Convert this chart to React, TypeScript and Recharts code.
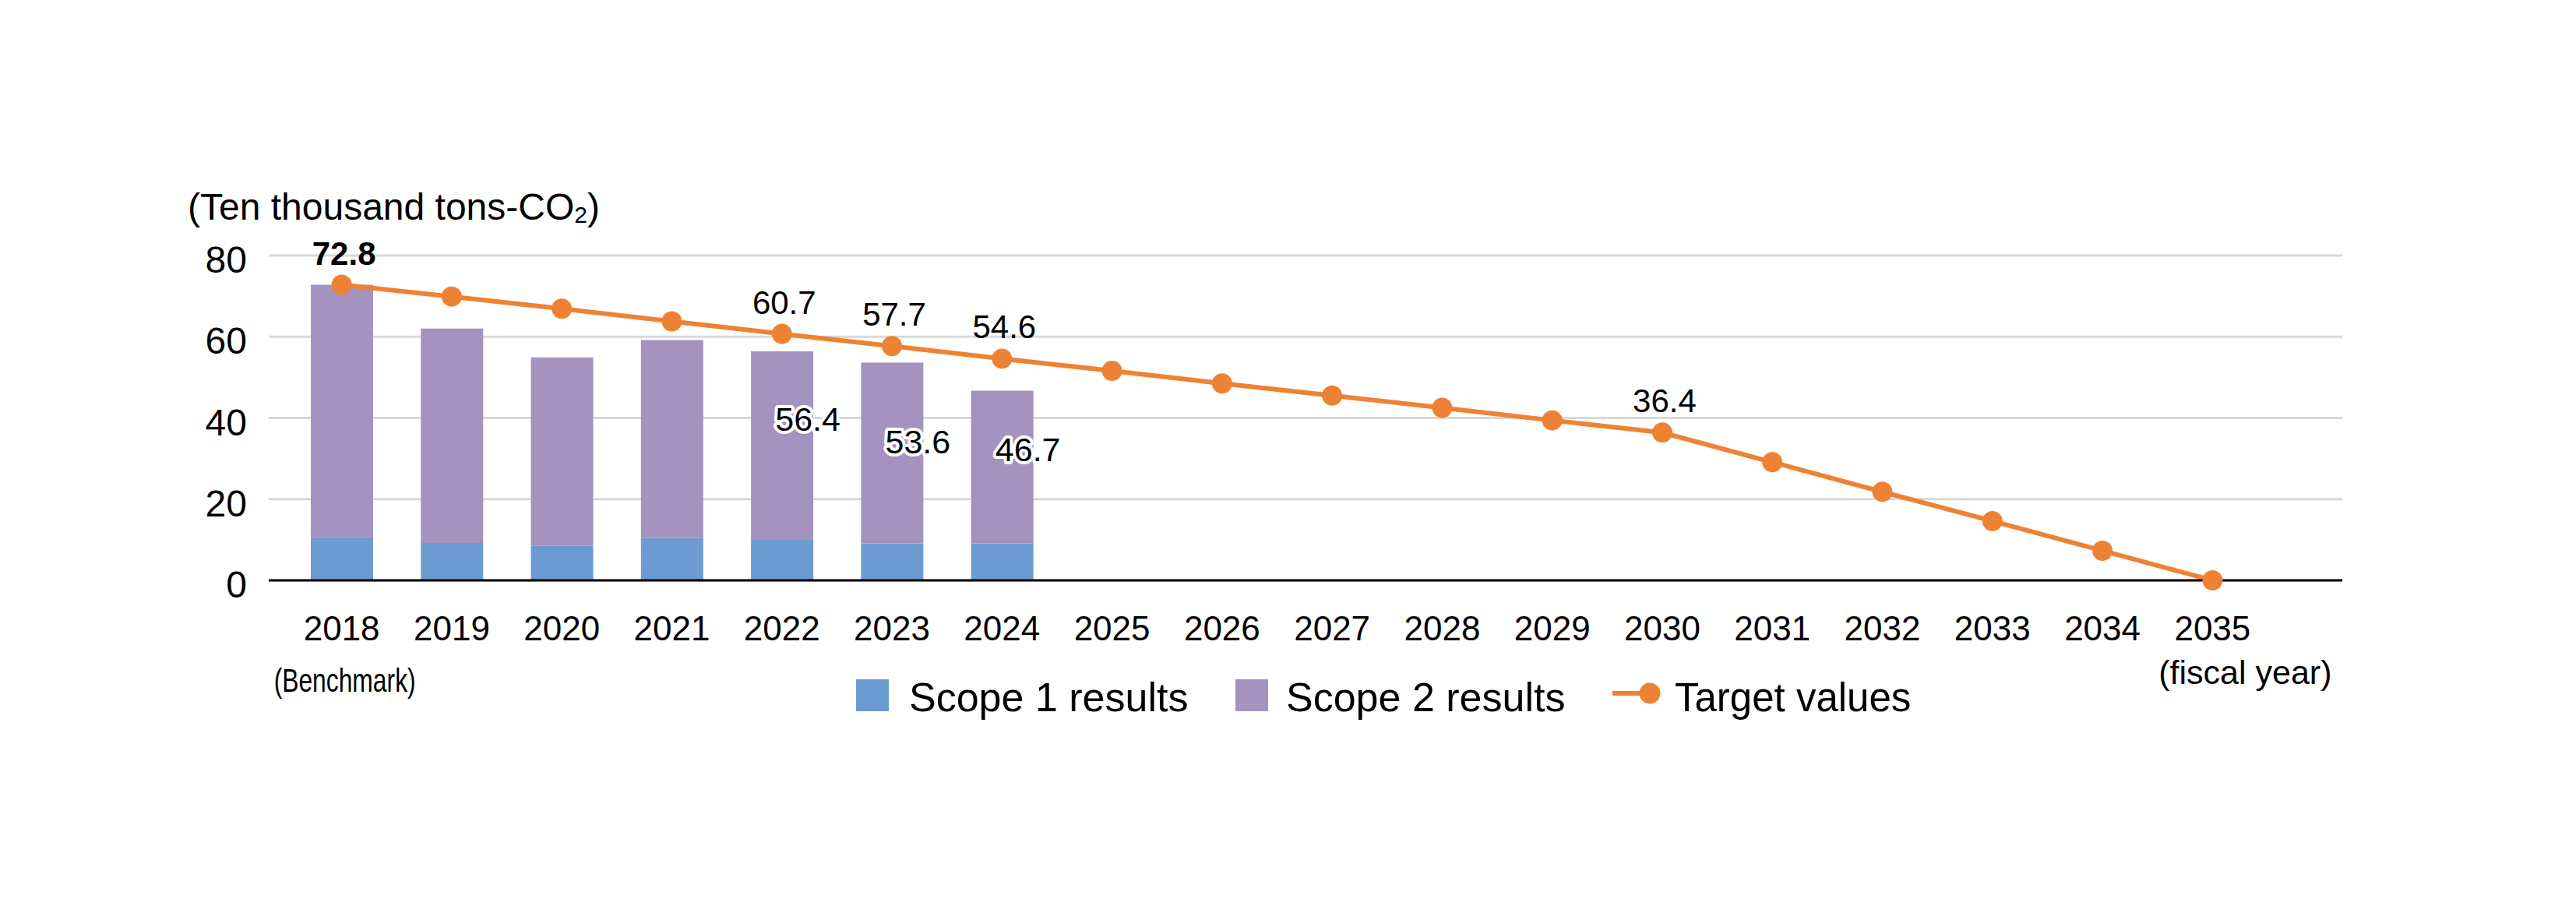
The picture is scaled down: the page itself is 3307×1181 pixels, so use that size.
import React from 'react';
import { ComposedChart, Bar, Line, XAxis, YAxis, CartesianGrid, LabelList } from 'recharts';

// ---- data ----
const years = ['2018', '2019', '2020', '2021', '2022', '2023', '2024', '2025', '2026', '2027', '2028', '2029', '2030', '2031', '2032', '2033', '2034', '2035'];
const scope1Results = [10.6, 9.2, 8.5, 10.4, 10.0, 9.1, 9.1];
const scope2Results = [62.2, 52.8, 46.4, 48.8, 46.4, 44.5, 37.6];
const totalResults = [72.8, 62.0, 54.9, 59.2, 56.4, 53.6, 46.7];
const targetValues = [72.8, 69.9, 66.9, 63.8, 60.7, 57.7, 54.6, 51.6, 48.5, 45.5, 42.5, 39.4, 36.4, 29.1, 21.8, 14.6, 7.3, 0];
const yTicks = [0, 20, 40, 60, 80];
const labeledTargetYears = ['2018', '2022', '2023', '2024', '2030'];
const labeledTotalYears = ['2022', '2023', '2024'];
const yearNotes: Record<string, string> = { '2018': '(Benchmark)', '2035': '(fiscal year)' };

const data = years.map((year, i) => ({
  year,
  scope1: scope1Results[i],
  scope2: scope2Results[i],
  total: totalResults[i],
  target: targetValues[i],
}));

// ---- styles ----
const FONT = '"Liberation Sans", Arial, Helvetica, sans-serif';
const BLUE = '#6C9BD2';
const PURPLE = '#A493BE';
const ORANGE = '#EE8234';
const W = 3291;
const H = 1165;
// vertical drop of the in-bar total labels below the bar top (styling only)
const totalLabelDrop: Record<string, number> = { '2022': 87, '2023': 101, '2024': 75 };

function box(p: any) {
  const vb = p.viewBox || {};
  return {
    x: p.x ?? vb.x,
    y: p.y ?? vb.y,
    width: p.width ?? vb.width ?? 0,
    height: p.height ?? vb.height ?? 0,
  };
}

const XTick = (props: any) => {
  const { x, y, payload } = props;
  const note = yearNotes[payload.value];
  return (
    <g>
      <text x={x} y={y + 77} textAnchor="middle" fontSize={44} fill="#000" fontFamily={FONT}>
        {payload.value}
      </text>
      {note && payload.value === '2018' && (
        <text x={x + 4} y={y + 143} textAnchor="middle" fontSize={42} fill="#000" fontFamily={FONT}
          textLength={182} lengthAdjust="spacingAndGlyphs">
          {note}
        </text>
      )}
      {note && payload.value === '2035' && (
        <text x={x + 42} y={y + 133} textAnchor="middle" fontSize={43} fill="#000" fontFamily={FONT}>
          {note}
        </text>
      )}
    </g>
  );
};

const YTick = (props: any) => {
  const { x, y, payload } = props;
  return (
    <text x={x} y={y + 22} textAnchor="end" fontSize={48} fill="#000" fontFamily={FONT}>
      {payload.value}
    </text>
  );
};

const TargetLabel = (props: any) => {
  const { x, y } = box(props);
  const idx = props.index;
  const year = idx != null ? years[idx] : undefined;
  if (!year || !labeledTargetYears.includes(year) || x == null || y == null) return null;
  const bold = year === '2018';
  return (
    <text x={x + 3} y={y - 26} textAnchor="middle" fontSize={bold ? 42 : 42}
      fontWeight={bold ? 'bold' : 'normal'} fill="#000" fontFamily={FONT}>
      {Number(props.value).toFixed(1)}
    </text>
  );
};

const TotalLabel = (props: any) => {
  const { x, y, width } = box(props);
  const idx = props.index;
  const year = idx != null ? years[idx] : undefined;
  if (!year || !labeledTotalYears.includes(year) || x == null || y == null) return null;
  return (
    <text x={x + width / 2 + 33} y={y + totalLabelDrop[year] + 15} textAnchor="middle" fontSize={43}
      fill="#000" fontFamily={FONT} stroke="#fff" strokeWidth={8} strokeLinejoin="round"
      paintOrder="stroke">
      {Number(props.value).toFixed(1)}
    </text>
  );
};

const Overlay = () => (
  <svg width={W} height={H} style={{ position: 'absolute', left: 0, top: 0, pointerEvents: 'none' }}>
    <text x={233} y={274} fontSize={48} fill="#000" fontFamily={FONT}>
      (Ten thousand tons-CO
      <tspan fontSize={30} dy={4}>2</tspan>
      <tspan dy={-4}>)</tspan>
    </text>
    {/* legend */}
    <rect x={1091} y={864} width={42} height={41} fill={BLUE} />
    <text x={1159} y={905} fontSize={52} fill="#000" fontFamily={FONT}>Scope 1 results</text>
    <rect x={1578} y={864} width={42} height={41} fill={PURPLE} />
    <text x={1643} y={905} fontSize={52} fill="#000" fontFamily={FONT}>Scope 2 results</text>
    <line x1={2062} y1={882} x2={2102} y2={882} stroke={ORANGE} strokeWidth={6} />
    <circle cx={2110} cy={882} r={13.5} fill={ORANGE} />
    <text x={2142} y={905} fontSize={51} fill="#000" fontFamily={FONT}>Target values</text>
  </svg>
);

export default function App() {
  return (
    <div style={{ position: 'relative', width: W, height: H, background: '#fff' }}>
      <ComposedChart
        width={W}
        height={H}
        data={data}
        margin={{ top: 320, right: 292, left: 257, bottom: 368 }}
      >
        <CartesianGrid vertical={false} stroke="#D9D9D9" strokeWidth={3} />
        <XAxis
          dataKey="year"
          height={60}
          padding={{ left: 23, right: 96 }}
          axisLine={{ stroke: '#000', strokeWidth: 3 }}
          tickLine={false}
          tickSize={0}
          tickMargin={0}
          interval={0}
          tick={<XTick />}
        />
        <YAxis
          width={80}
          domain={[0, 80]}
          ticks={yTicks}
          axisLine={false}
          tickLine={false}
          tickSize={0}
          tickMargin={28}
          tick={<YTick />}
        />
        <Bar dataKey="scope1" stackId="a" fill={BLUE} barSize={80} isAnimationActive={false} />
        <Bar dataKey="scope2" stackId="a" fill={PURPLE} barSize={80} isAnimationActive={false}>
          <LabelList dataKey="total" content={<TotalLabel />} />
        </Bar>
        <Line
          dataKey="target"
          stroke={ORANGE}
          strokeWidth={6}
          dot={{ r: 13, fill: ORANGE, stroke: 'none' }}
          activeDot={false}
          isAnimationActive={false}
        >
          <LabelList dataKey="target" content={<TargetLabel />} />
        </Line>
      </ComposedChart>
      <Overlay />
    </div>
  );
}
